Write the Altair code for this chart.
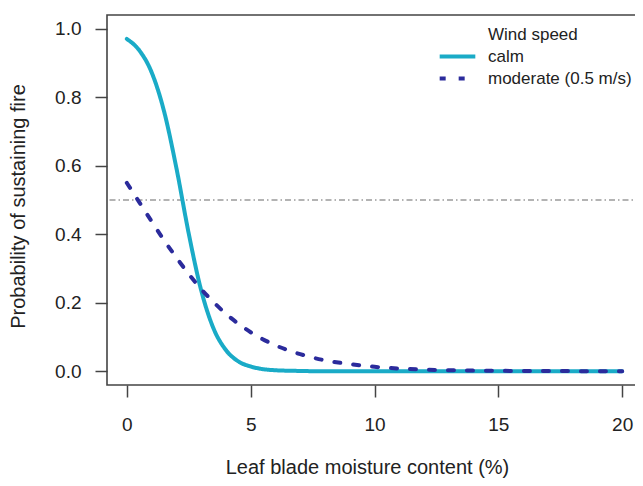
import altair as alt
import pandas as pd

# moisture content (%)
x_vals = [0, 0.5, 1, 1.5, 2, 2.5, 3, 3.5, 4, 4.5, 5, 6, 7, 8, 9, 10, 12, 14, 16, 18, 20]
# probability of sustaining fire, calm
calm = [0.970, 0.937, 0.873, 0.760, 0.594, 0.402, 0.237, 0.125, 0.062, 0.029, 0.014,
        0.003, 0.001, 0.0, 0.0, 0.0, 0.0, 0.0, 0.0, 0.0, 0.0]
# probability of sustaining fire, moderate wind (0.5 m/s)
moderate = [0.550, 0.494, 0.438, 0.383, 0.332, 0.284, 0.240, 0.202, 0.168, 0.139, 0.114,
            0.076, 0.050, 0.032, 0.021, 0.013, 0.005, 0.002, 0.001, 0.0005, 0.0]
series_names = ["calm", "moderate (0.5 m/s)"]
legend_title = "Wind speed"
threshold = [0.5]

x_ticks = [0, 5, 10, 15, 20]
y_ticks = [0.0, 0.2, 0.4, 0.6, 0.8, 1.0]

rows = []
for xv, c, m in zip(x_vals, calm, moderate):
    rows.append({"x": xv, "p": c, "wind": series_names[0]})
    rows.append({"x": xv, "p": m, "wind": series_names[1]})
df = pd.DataFrame(rows)
df_h = pd.DataFrame({"y": threshold})

FONT = "Liberation Sans"
TXT = "#222222"

xscale = alt.Scale(domain=[-0.8, 20.8], nice=False, zero=False)
yscale = alt.Scale(domain=[-0.04, 1.04], nice=False, zero=False)

hline = alt.Chart(df_h).mark_rule(
    color="#9a9a9a", strokeWidth=1.3, strokeDash=[6, 3, 1.5, 3]
).encode(y=alt.Y("y:Q", scale=yscale))

domain = [legend_title] + series_names
leg = dict(title=None, orient="none", legendX=337, legendY=6,
           symbolType="M-1.55,0H1.55", symbolSize=529, symbolStrokeWidth=4,
           symbolFillColor="transparent",
           labelFontSize=17, labelFont=FONT, labelColor=TXT, labelOffset=17,
           rowPadding=0, padding=0)

lines = alt.Chart(df).mark_line(
    strokeWidth=4, strokeCap="round", interpolate="monotone"
).encode(
    x=alt.X("x:Q", scale=xscale,
            axis=alt.Axis(values=x_ticks, title="Leaf blade moisture content (%)",
                          format="d", titleX=260)),
    y=alt.Y("p:Q", scale=yscale,
            axis=alt.Axis(values=y_ticks, title="Probability of sustaining fire",
                          format=".1f", titleY=191)),
    color=alt.Color("wind:N",
                    scale=alt.Scale(domain=domain,
                                    range=["transparent", "#1aabc7", "#2b2b9c"]),
                    legend=alt.Legend(**leg)),
    strokeDash=alt.StrokeDash("wind:N",
                              scale=alt.Scale(domain=domain,
                                              range=[[1, 0], [1, 0], [6, 13]]),
                              legend=alt.Legend(**leg)),
    order=alt.Order("x:Q"),
)

chart = alt.layer(hline, lines).properties(
    width=535, height=370,
    background="white",
    autosize=alt.AutoSizeParams(type="none"),
    padding={"left": 99, "top": 7, "right": -7, "bottom": 93},
).configure_view(
    stroke="#444444", strokeWidth=1.6
).configure_axis(
    grid=False, domain=False, tickColor="#444444", tickWidth=1.5, tickSize=12,
    labelFont=FONT, labelFontSize=19, labelColor=TXT, labelPadding=14,
    titleFont=FONT, titleFontSize=20, titleColor=TXT, titleFontWeight="normal",
).configure_axisX(
    labelPadding=18, titlePadding=23
).configure_axisY(
    titlePadding=26
)

chart.save("out.html", embed_options={"renderer": "svg", "actions": False})
